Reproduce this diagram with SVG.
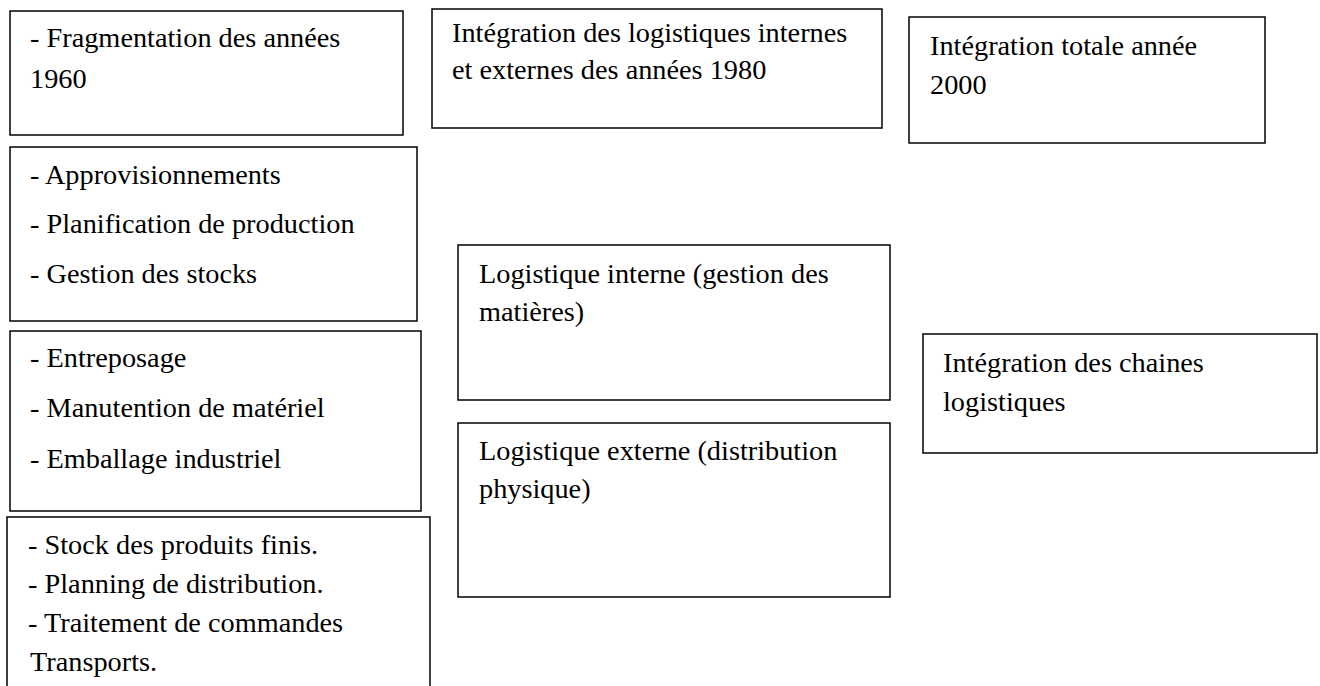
<svg xmlns="http://www.w3.org/2000/svg" width="1320" height="686" viewBox="0 0 1320 686">
<style>
.box{fill:#fff;stroke:#000;stroke-width:1.5}
.t{font-family:'Times New Roman',serif;font-size:28.3px;fill:#000}
</style>
<rect width="1320" height="686" fill="#fff"/>
<g id="connectors"></g>
<g id="n1"><rect class="box" x="10" y="11" width="393" height="124"/><text class="t" x="30" y="47">- Fragmentation des années</text><text class="t" x="30" y="88">1960</text></g>
<g id="n2"><rect class="box" x="432" y="9" width="450" height="119"/><text class="t" x="452" y="42">Intégration des logistiques internes</text><text class="t" x="452" y="79">et externes des années 1980</text></g>
<g id="n3"><rect class="box" x="909" y="17" width="356" height="126"/><text class="t" x="930" y="55">Intégration totale année</text><text class="t" x="930" y="94">2000</text></g>
<g id="n4"><rect class="box" x="10" y="147" width="407" height="174"/><text class="t" x="30" y="184">- Approvisionnements</text><text class="t" x="30" y="233">- Planification de production</text><text class="t" x="30" y="283">- Gestion des stocks</text></g>
<g id="n5"><rect class="box" x="10" y="331" width="411" height="180"/><text class="t" x="30" y="367">- Entreposage</text><text class="t" x="30" y="417">- Manutention de matériel</text><text class="t" x="30" y="468">- Emballage industriel</text></g>
<g id="n6"><rect class="box" x="7" y="517" width="423" height="180"/><text class="t" x="28" y="554">- Stock des produits finis.</text><text class="t" x="28" y="593">- Planning de distribution.</text><text class="t" x="28" y="632">- Traitement de commandes</text><text class="t" x="30" y="671">Transports.</text></g>
<g id="n7"><rect class="box" x="458" y="245" width="432" height="155"/><text class="t" x="479" y="283">Logistique interne (gestion des</text><text class="t" x="479" y="321">matières)</text></g>
<g id="n8"><rect class="box" x="458" y="423" width="432" height="174"/><text class="t" x="479" y="460">Logistique externe (distribution</text><text class="t" x="479" y="498">physique)</text></g>
<g id="n9"><rect class="box" x="923" y="334" width="394" height="119"/><text class="t" x="943" y="372">Intégration des chaines</text><text class="t" x="943" y="411">logistiques</text></g>
</svg>
